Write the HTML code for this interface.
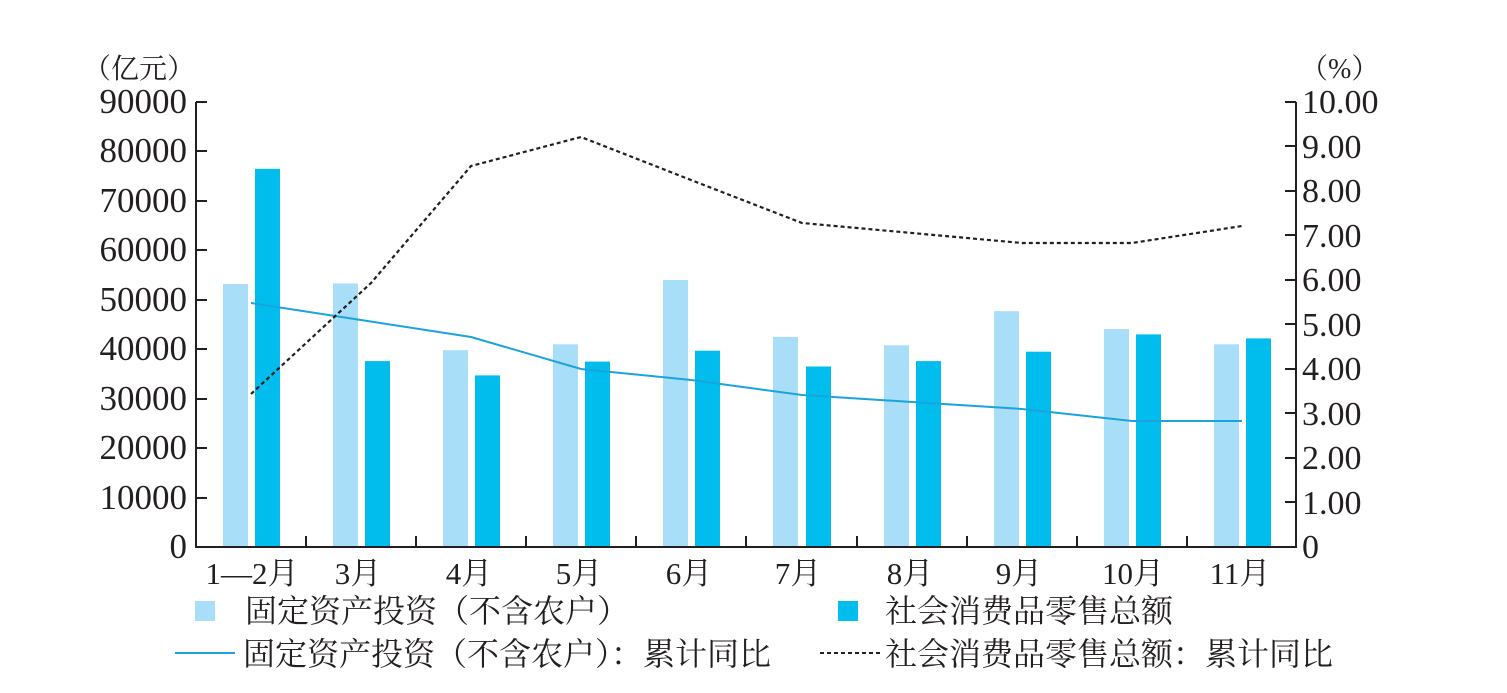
<!DOCTYPE html>
<html><head><meta charset="utf-8"><style>
body{margin:0;background:#fff;}
svg text{font-family:"Liberation Serif","Noto Serif CJK SC",serif;fill:#231f20;}
</style></head><body>
<svg width="1507" height="688" xmlns="http://www.w3.org/2000/svg">
<g font-size="28">
<text x="83" y="78">（亿元）</text>
<text x="1300" y="78">（%）</text>
</g>
<g font-size="35" text-anchor="end">
<text x="187" y="558">0</text>
<text x="187" y="509">10000</text>
<text x="187" y="459">20000</text>
<text x="187" y="410">30000</text>
<text x="187" y="360">40000</text>
<text x="187" y="311">50000</text>
<text x="187" y="261">60000</text>
<text x="187" y="212">70000</text>
<text x="187" y="162">80000</text>
<text x="187" y="113">90000</text>
</g>
<g font-size="34">
<text x="1302" y="558">0</text>
<text x="1302" y="514">1.00</text>
<text x="1302" y="469">2.00</text>
<text x="1302" y="425">3.00</text>
<text x="1302" y="380">4.00</text>
<text x="1302" y="336">5.00</text>
<text x="1302" y="291">6.00</text>
<text x="1302" y="247">7.00</text>
<text x="1302" y="202">8.00</text>
<text x="1302" y="158">9.00</text>
<text x="1302" y="113">10.00</text>
</g>
<g fill="#a8def7">
<rect x="223" y="284" width="25" height="263"/>
<rect x="333" y="283.5" width="25" height="263.5"/>
<rect x="443" y="350.2" width="25" height="196.8"/>
<rect x="553" y="344.3" width="25" height="202.7"/>
<rect x="663" y="280" width="25" height="267"/>
<rect x="773" y="336.9" width="25" height="210.1"/>
<rect x="884" y="345.3" width="25" height="201.7"/>
<rect x="994" y="311.2" width="25" height="235.8"/>
<rect x="1104" y="329" width="25" height="218"/>
<rect x="1214" y="344.3" width="25" height="202.7"/>
</g>
<g fill="#00bdee">
<rect x="255" y="168.8" width="25" height="378.2"/>
<rect x="365" y="361.1" width="25" height="185.9"/>
<rect x="475" y="375.4" width="25" height="171.6"/>
<rect x="585" y="361.6" width="25" height="185.4"/>
<rect x="695" y="350.7" width="25" height="196.3"/>
<rect x="806" y="366.5" width="25" height="180.5"/>
<rect x="916" y="361.1" width="25" height="185.9"/>
<rect x="1026" y="351.7" width="25" height="195.3"/>
<rect x="1136" y="334.4" width="25" height="212.6"/>
<rect x="1246" y="338.4" width="25" height="208.6"/>
</g>
<g stroke="#231f20" stroke-width="2" fill="none">
<path d="M196 102V547H1296V102"/>
<path d="M196 102h11M196 151h11M196 201h11M196 250h11M196 300h11M196 349h11M196 399h11M196 448h11M196 498h11"/>
<path d="M1296 102h-11M1296 146h-11M1296 191h-11M1296 235h-11M1296 280h-11M1296 324h-11M1296 369h-11M1296 413h-11M1296 458h-11M1296 502h-11"/>
<path d="M306 547v-11M416 547v-11M526 547v-11M636 547v-11M746 547v-11M857 547v-11M967 547v-11M1077 547v-11M1187 547v-11"/>
</g>
<polyline fill="none" stroke="#1aa3dc" stroke-width="2" points="251,303 361,320 471,337 581,369 691,380 802,395 912,402 1022,409 1132,421 1242,421"/>
<polyline fill="none" stroke="#231f20" stroke-width="2.2" stroke-dasharray="4,3" points="251,394 371,283 471,166 581,137 691,180 802,223 912,233 1022,243 1132,243 1242,226"/>
<g font-size="31" text-anchor="middle">
<text x="252" y="584">1—2月</text>
<text x="358" y="584">3月</text>
<text x="469" y="584">4月</text>
<text x="579" y="584">5月</text>
<text x="689" y="584">6月</text>
<text x="798" y="584">7月</text>
<text x="910" y="584">8月</text>
<text x="1019" y="584">9月</text>
<text x="1133" y="584">10月</text>
<text x="1240" y="584">11月</text>
</g>
<rect x="195" y="601" width="20" height="20" fill="#a8def7"/>
<rect x="838" y="601" width="20" height="20" fill="#00bdee"/>
<line x1="175" y1="653" x2="235" y2="653" stroke="#1aa3dc" stroke-width="2"/>
<line x1="820" y1="653" x2="880" y2="653" stroke="#231f20" stroke-width="2" stroke-dasharray="4,3"/>
<g font-size="32">
<text x="245" y="622">固定资产投资（不含农户）</text>
<text x="885" y="622">社会消费品零售总额</text>
<text x="243" y="665">固定资产投资（不含农户）：累计同比</text>
<text x="885" y="665">社会消费品零售总额：累计同比</text>
</g>
</svg>
</body></html>
